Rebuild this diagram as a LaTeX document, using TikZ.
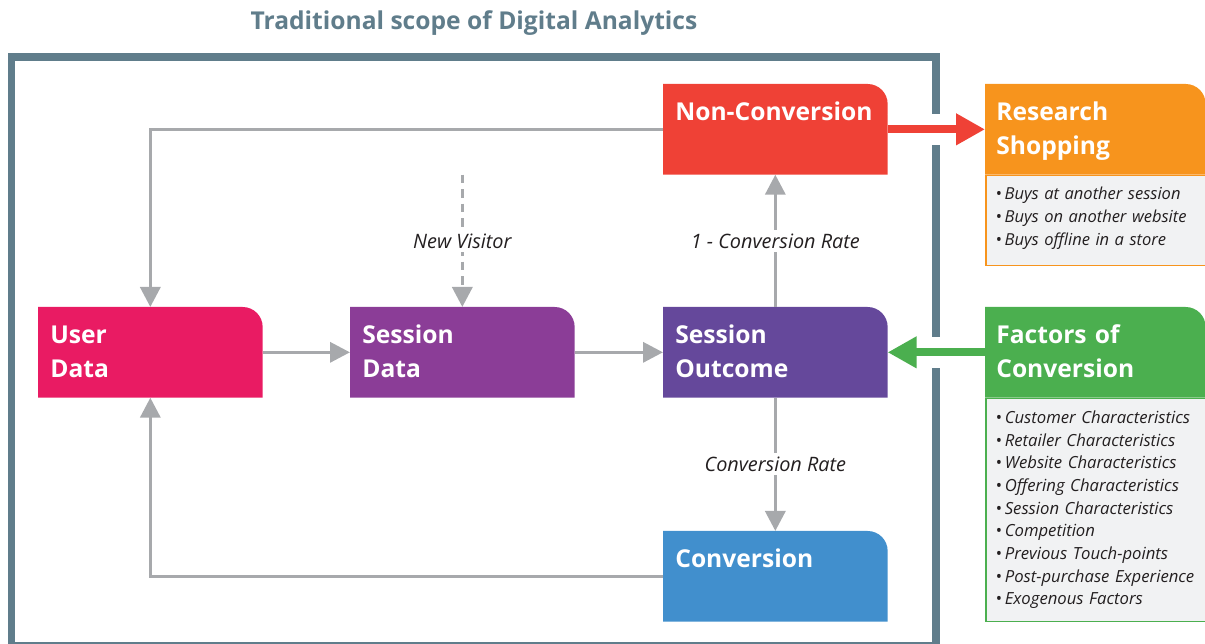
\documentclass[tikz,border=0pt]{standalone}
\usepackage{fontspec}
\setmainfont{Open Sans}
\usetikzlibrary{arrows.meta,backgrounds,positioning}

\definecolor{scopegray}{HTML}{607D8B}
\definecolor{flowgray}{HTML}{A7A9AC}
\definecolor{inkgray}{HTML}{231F20}
\definecolor{notegray}{HTML}{F1F2F3}
\definecolor{userpink}{HTML}{E91B63}
\definecolor{sdatapurple}{HTML}{8B3D97}
\definecolor{outcomepurple}{HTML}{65489B}
\definecolor{nonconvred}{HTML}{EF4136}
\definecolor{convblue}{HTML}{418FCD}
\definecolor{researchorange}{HTML}{F7941D}
\definecolor{factorsgreen}{HTML}{4BAF4F}

\newcommand\stagefont{\fontsize{14}{19.3}\selectfont\bfseries}
\newcommand\notefont{\fontsize{9.4}{13.2}\selectfont\itshape}
\newcommand\li{{\upshape\textbullet}\,}

\tikzset{
	% coloured boxes, text sits in the top left corner
	stage/.style={anchor=north west, text=white, font=\stagefont, align=left,
		text width=4cm, inner xsep=0.24cm, inner ysep=0pt,
		text height=0.72cm, text depth=1.08cm},
	header/.style={stage, text width=3.96cm, inner xsep=0.22cm},
	% grey boxes with the bullet lists
	notes/.style={anchor=north west, fill=notegray, draw=#1, line width=0.03cm,
		text=inkgray, font=\notefont, align=left, text width=4.4cm,
		inner xsep=0.2cm, inner ysep=0pt},
	flow/.style={draw=flowgray, line width=0.07cm,
		-{Triangle[length=0.4cm,width=0.4cm]}},
	tag/.style={fill=white, text=inkgray, font=\fontsize{11.3}{13}\selectfont\itshape,
		inner sep=2pt},
	bigarrow/.style={draw=#1, line width=0.16cm,
		-{Triangle[length=0.58cm,width=0.6cm]}},
	gap/.style={draw=white, line width=0.62cm},
	frame/.style={draw=scopegray, line width=0.16cm},
}

\begin{document}
\begin{tikzpicture}[x=0.02cm,y=-0.02cm]
\useasboundingbox (0,0) rectangle (1205,644);

% the scope of digital analytics
\node[text=scopegray, font=\fontsize{14}{16}\selectfont\bfseries] (title) at (474,23) {Traditional scope of Digital Analytics};
\draw[frame] (11.5,57.5) rectangle (936,646);

% stages of a visit
\node[stage] (user) at (38,307) {User\\Data};
\node[stage] (sdata) at (350,307) {Session\\Data};
\node[stage] (outcome) at (663,307) {Session\\Outcome};
\node[stage] (nonconv) at (663,84) {\mbox{Non-Conversion}};
\node[stage] (conv) at (663,531) {Conversion};

% outside the scope
\node[header] (research) at (985,84) {Research\\Shopping};
\node[notes=researchorange, text height=0.48cm, text depth=1.32cm] (researchlist) at (research.south west)
	{\li Buys at another session\\ \li Buys on another website\\ \li Buys offline in a store};
\node[header] (factors) at (985,307) {Factors of\\Conversion};
\node[notes=factorsgreen, text height=0.5cm, text depth=3.96cm, font=\fontsize{9.5}{12.9}\selectfont\itshape] (factorslist) at (factors.south west)
	{\li Customer Characteristics\\ \li Retailer Characteristics\\ \li Website Characteristics\\
	 \li Offering Characteristics\\ \li Session Characteristics\\ \li Competition\\
	 \li Previous Touch-points\\ \li Post-purchase Experience\\ \li Exogenous Factors};

% box fills with one rounded corner
\begin{scope}[on background layer]
\foreach \n/\c in {user/userpink, sdata/sdatapurple, outcome/outcomepurple, nonconv/nonconvred,
		conv/convblue, research/researchorange, factors/factorsgreen}
	\fill[\c] (\n.south west) -- (\n.north west) -- ([xshift=-0.4cm]\n.north east)
		arc[start angle=90, end angle=0, radius=0.4cm] -- (\n.south east) -- cycle;
\end{scope}

% connectors
\coordinate (visitor) at (sdata.north |- nonconv.south);
\draw[flow] (user) -- (sdata);
\draw[flow] (sdata) -- (outcome);
\draw[flow, dash pattern=on 0.17cm off 0.12cm] (visitor) -- node[tag] {New Visitor} (sdata);
\draw[flow] (outcome) -- node[tag] {1 - Conversion Rate} (nonconv);
\draw[flow] (outcome) -- node[tag] {Conversion Rate} (conv);
\draw[flow] (nonconv.west) -| (user.north);
\draw[flow] (conv.west) -| (user.south);

% thick arrows through the frame
\draw[gap] (nonconv.east) -- (research.west);
\draw[bigarrow=nonconvred] (nonconv.east) -- (research.west);
\draw[gap] (factors.west) -- (outcome.east);
\draw[bigarrow=factorsgreen] (factors.west) -- (outcome.east);
\end{tikzpicture}
\end{document}
